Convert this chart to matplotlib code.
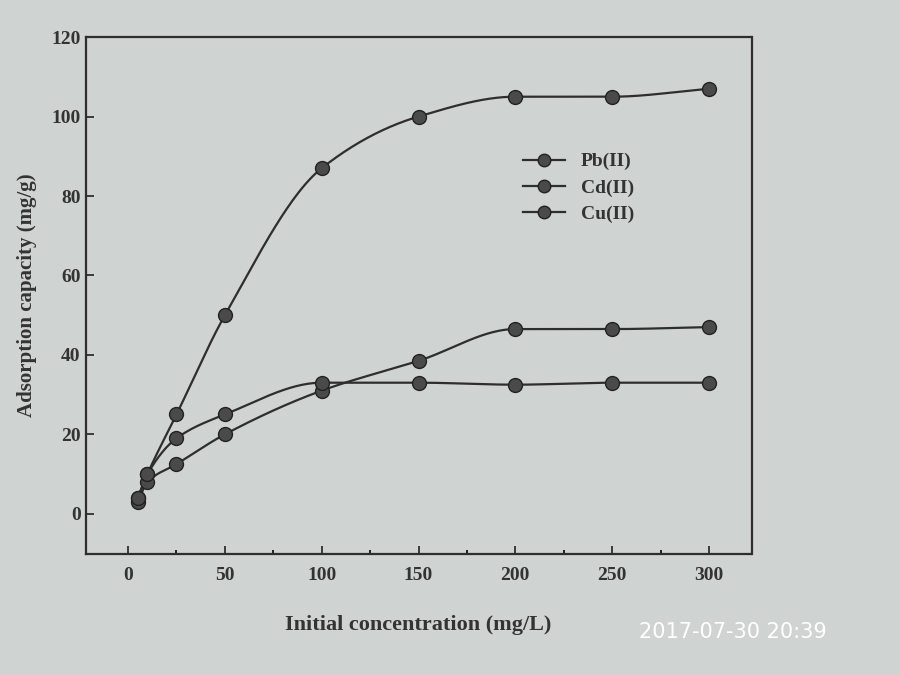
import numpy as np
import matplotlib as mpl
mpl.use('Agg')
import matplotlib.pyplot as plt

# initial concentration (mg/L)
conc = [5, 10, 25, 50, 100, 150, 200, 250, 300]
# adsorption capacity (mg/g)
pb = [4, 10, 25, 50, 87, 100, 105, 105, 107]
cd = [3, 8, 12.5, 20, 31, 38.5, 46.5, 46.5, 47]
cu = [4, 10, 19, 25, 33, 33, 32.5, 33, 33]
labels = ['Pb(II)', 'Cd(II)', 'Cu(II)']


def pchip(x, y, n=300):
    '''monotone cubic curve through the points, for a smooth line'''
    x = np.asarray(x, float)
    y = np.asarray(y, float)
    h = np.diff(x)
    d = np.diff(y) / h
    m = np.zeros_like(y)
    for k in range(1, len(x) - 1):
        if d[k - 1] * d[k] > 0:
            w1 = 2 * h[k] + h[k - 1]
            w2 = h[k] + 2 * h[k - 1]
            m[k] = (w1 + w2) / (w1 / d[k - 1] + w2 / d[k])
    m[0] = d[0]
    m[-1] = d[-1]
    xs = np.linspace(x[0], x[-1], n)
    idx = np.clip(np.searchsorted(x, xs) - 1, 0, len(x) - 2)
    t = (xs - x[idx]) / h[idx]
    h00 = 2 * t**3 - 3 * t**2 + 1
    h10 = t**3 - 2 * t**2 + t
    h01 = -2 * t**3 + 3 * t**2
    h11 = t**3 - t**2
    ys = h00 * y[idx] + h10 * h[idx] * m[idx] + h01 * y[idx + 1] + h11 * h[idx] * m[idx + 1]
    return xs, ys


plt.rcParams['font.family'] = ['Liberation Serif', 'DejaVu Serif']
bg = '#cfd3d2'
ink = '#2e2e2e'

fig = plt.figure(figsize=(9, 6.75), dpi=100, facecolor=bg)
ax = fig.add_axes([0.095, 0.18, 0.74, 0.765], facecolor=bg)

for series, lab in zip([pb, cd, cu], labels):
    xs, ys = pchip(conc, series)
    ax.plot(xs, ys, color=ink, lw=1.6, zorder=2)
    ax.plot(conc, series, 'o', color='#4a4a4a', mec='#222222', mew=1.0,
            ms=10, zorder=3)
    ax.plot([], [], '-o', color=ink, lw=1.6, mfc='#4a4a4a', mec='#222222',
            ms=9, label=lab)

ax.set_xlim(-22, 322)
ax.set_ylim(-10, 120)
ax.set_xticks(np.arange(0, 301, 50))
ax.set_xticks(np.arange(25, 301, 50), minor=True)
ax.set_yticks(np.arange(0, 121, 20))
ax.tick_params(direction='in', length=6, width=1.3, colors=ink, labelsize=14)
ax.tick_params(axis='x', pad=10)
ax.tick_params(which='minor', direction='in', length=3, width=1.2)
for lbl in ax.get_xticklabels() + ax.get_yticklabels():
    lbl.set_fontweight('bold')
    lbl.set_color('#333333')
for sp in ax.spines.values():
    sp.set_linewidth(1.6)
    sp.set_color(ink)

ax.set_xlabel('Initial concentration (mg/L)', fontsize=16, fontweight='bold',
              color='#333333', labelpad=22)
ax.set_ylabel('Adsorption capacity (mg/g)', fontsize=15, fontweight='bold',
              color='#333333', labelpad=10)

leg = ax.legend(loc='upper left', bbox_to_anchor=(0.63, 0.81), frameon=False,
                handlelength=2.2, labelspacing=0.45,
                prop={'weight': 'bold', 'size': 14})
for t in leg.get_texts():
    t.set_color('#333333')

fig.text(0.71, 0.055, '2017-07-30 20:39', color='white', fontsize=15,
         family='DejaVu Sans')

fig.savefig('out.png', dpi=100, facecolor=bg)
